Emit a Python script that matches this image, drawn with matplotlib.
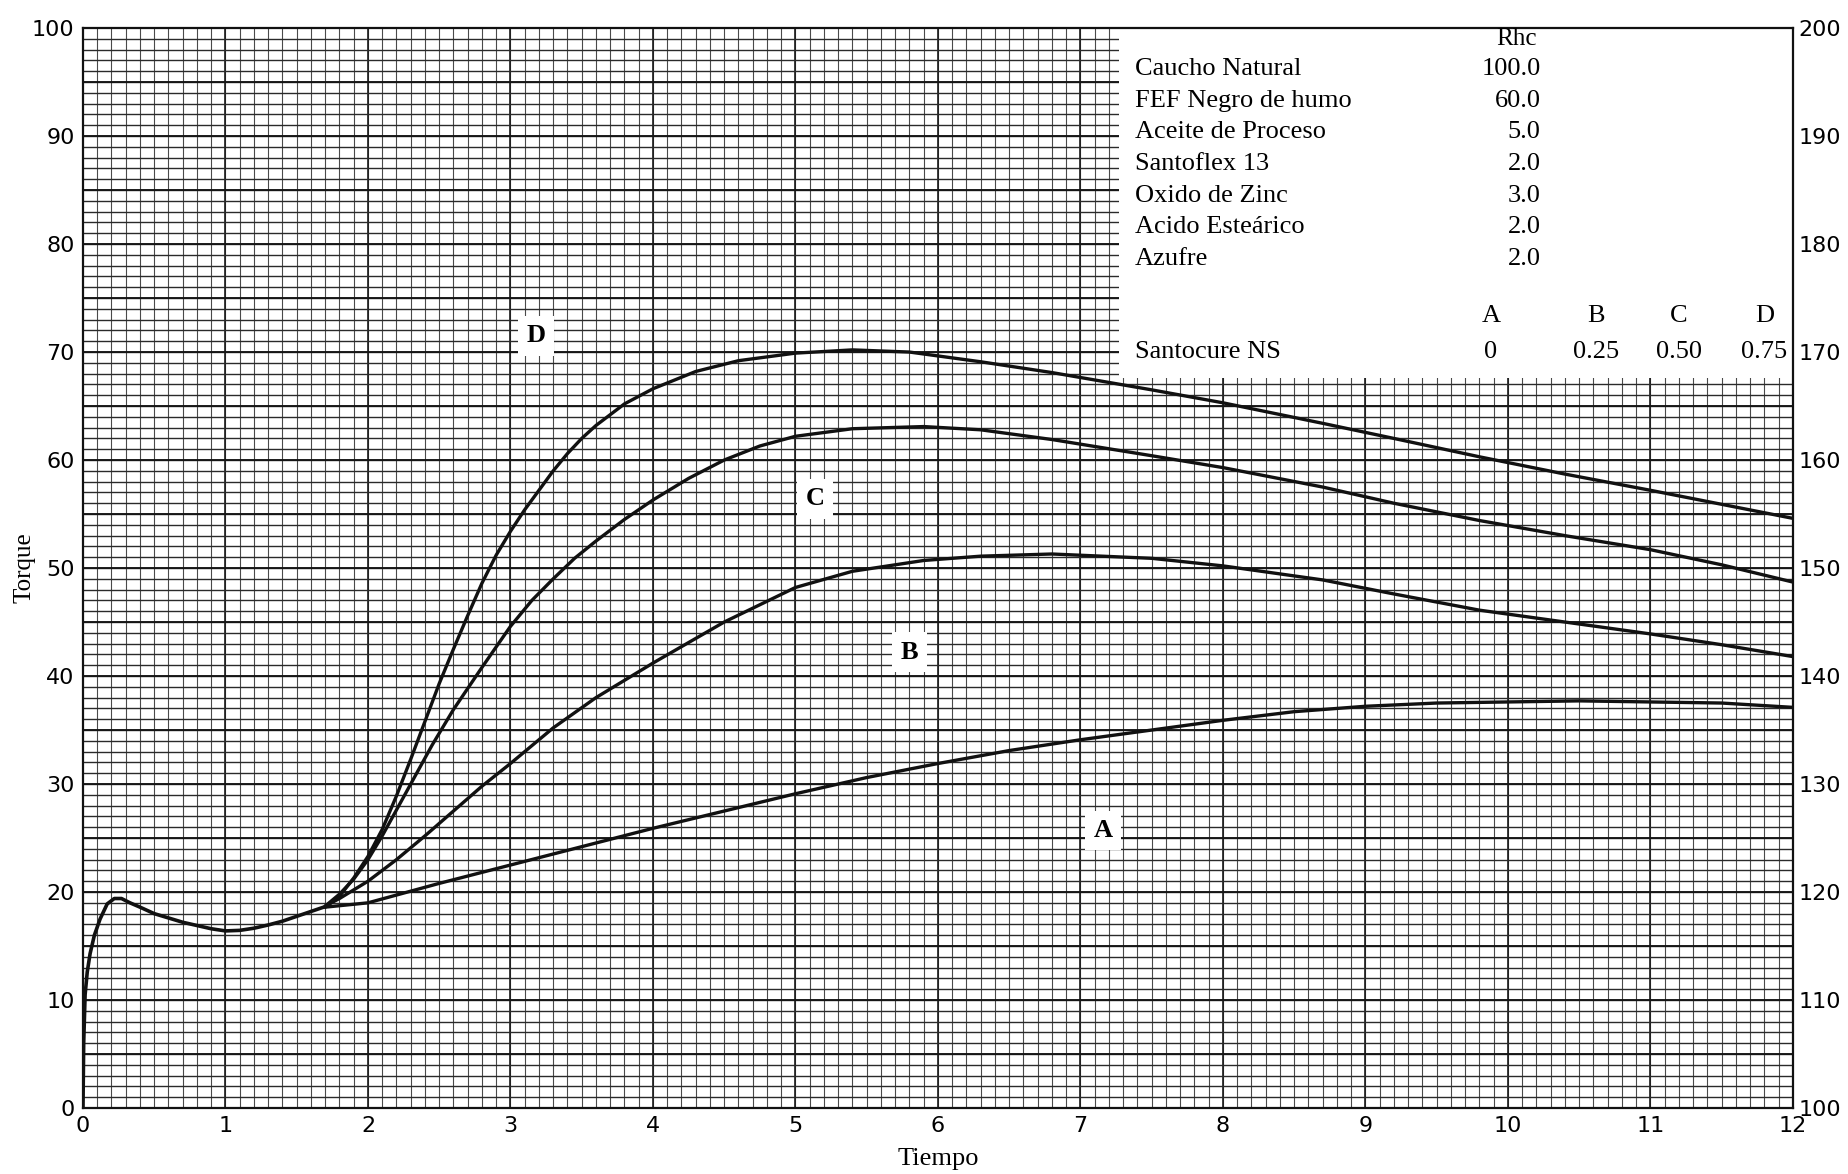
import numpy as np
import matplotlib.pyplot as plt
from matplotlib.patches import Rectangle

# --- Data (Torque vs Tiempo) ---
# common start, all four compounds run together until ~1.7 min
t_common = [0, 0.005, 0.015, 0.03, 0.05, 0.08, 0.12, 0.17, 0.22, 0.27, 0.33, 0.4,
            0.5, 0.6, 0.7, 0.8, 0.9, 1.0, 1.1, 1.2, 1.3, 1.4, 1.5, 1.6, 1.7]
v_common = [0, 6, 10.5, 12.6, 14.3, 16.0, 17.5, 18.9, 19.4, 19.4, 19.0, 18.6,
            18.0, 17.6, 17.2, 16.9, 16.6, 16.4, 16.45, 16.65, 16.95, 17.3, 17.75, 18.2, 18.65]

t_A = [1.7, 2.0, 2.5, 3.0, 3.5, 4.0, 4.5, 5.0, 5.5, 6.0, 6.5, 7.0, 7.5, 8.0,
       8.5, 9.0, 9.5, 10.0, 10.5, 11.0, 11.5, 12.0]
v_A = [18.6, 19.0, 20.8, 22.5, 24.2, 25.9, 27.5, 29.1, 30.6, 31.9, 33.1, 34.1, 35.0, 35.9,
       36.7, 37.2, 37.5, 37.6, 37.7, 37.6, 37.5, 37.1]

t_B = [1.7, 1.8, 2.0, 2.2, 2.4, 2.6, 2.8, 3.0, 3.3, 3.6, 4.0, 4.5, 5.0, 5.4, 5.9,
       6.3, 6.8, 7.5, 8.0, 8.7, 9.2, 9.8, 10.4, 11.0, 11.5, 12.0]
v_B = [18.7, 19.4, 21.0, 23.0, 25.2, 27.5, 29.8, 31.9, 35.2, 38.0, 41.2, 45.0, 48.2, 49.7, 50.7,
       51.1, 51.3, 50.9, 50.2, 48.9, 47.6, 46.1, 45.0, 43.9, 42.9, 41.8]

t_C = [1.7, 1.8, 1.9, 2.0, 2.1, 2.2, 2.3, 2.45, 2.6, 2.8, 3.0, 3.15, 3.3, 3.45, 3.6, 3.8,
       4.0, 4.25, 4.5, 4.75, 5.0, 5.4, 5.9, 6.3, 6.8, 7.5, 8.0, 8.7, 9.2, 9.8, 10.4, 11.0,
       11.5, 12.0]
v_C = [18.7, 19.8, 21.2, 23.0, 25.2, 27.6, 30.0, 33.6, 36.9, 40.8, 44.6, 47.0, 49.0, 50.9, 52.5, 54.5,
       56.3, 58.3, 60.0, 61.3, 62.2, 62.9, 63.1, 62.8, 61.9, 60.4, 59.3, 57.5, 56.0, 54.4, 53.0, 51.7,
       50.3, 48.7]

t_D = [1.7, 1.8, 1.9, 2.0, 2.1, 2.2, 2.3, 2.4, 2.5, 2.6, 2.7, 2.8, 2.9, 3.0, 3.1, 3.2,
       3.3, 3.4, 3.5, 3.6, 3.8, 4.0, 4.3, 4.6, 5.0, 5.4, 5.8, 6.3, 6.8, 7.5, 8.0, 8.7,
       9.2, 9.8, 10.4, 11.0, 11.5, 12.0]
v_D = [18.6, 19.6, 21.3, 23.3, 25.8, 28.9, 32.3, 35.8, 39.3, 42.5, 45.6, 48.6, 51.2, 53.4, 55.4, 57.2,
       59.0, 60.6, 62.0, 63.2, 65.2, 66.6, 68.2, 69.2, 69.9, 70.2, 70.0, 69.1, 68.1, 66.5, 65.3, 63.4,
       62.0, 60.3, 58.7, 57.2, 55.9, 54.6]

# curve labels (letter, x, y)
curve_labels = [('D', 3.18, 71.5), ('C', 5.14, 56.4), ('B', 5.80, 42.2), ('A', 7.16, 25.7)]

# formulation table
ingredients = ['Caucho Natural', 'FEF Negro de humo', 'Aceite de Proceso', 'Santoflex 13',
               'Oxido de Zinc', 'Acido Esteárico', 'Azufre']
phr = ['100.0', '60.0', '5.0', '2.0', '3.0', '2.0', '2.0']
compounds = ['A', 'B', 'C', 'D']
santocure = ['0', '0.25', '0.50', '0.75']

serif = ['Liberation Serif', 'DejaVu Serif']

fig = plt.figure(figsize=(18.48, 11.74), dpi=100)
ax = fig.add_axes([0.0449, 0.0562, 0.9253, 0.9199])
ax.set_xlim(0, 12)
ax.set_ylim(0, 100)

# --- graph paper grid ---
ax.vlines(np.arange(0.1, 12, 0.1), 0, 100, color='#4a4a4a', lw=0.8, zorder=0)
ax.vlines(np.arange(1, 12, 1), 0, 100, color='#1a1a1a', lw=1.2, zorder=0)
ax.hlines(np.arange(1, 100, 1), 0, 12, color='#2a2a2a', lw=1.0, zorder=0)
ax.hlines(np.arange(5, 100, 5), 0, 12, color='#151515', lw=1.35, zorder=0)

# --- curves ---
for t, v in [(t_A, v_A), (t_B, v_B), (t_C, v_C), (t_D, v_D)]:
    ax.plot(t, v, color='#111111', lw=2.4, zorder=4, solid_capstyle='round')
ax.plot(t_common, v_common, color='#111111', lw=2.6, zorder=4, solid_capstyle='round')

for name, x, y in curve_labels:
    ax.text(x, y, name, family=serif, fontsize=19, fontweight='bold', ha='center', va='center',
            zorder=5, bbox=dict(facecolor='white', edgecolor='none', pad=6))

# --- formulation box in the upper right ---
ax.add_patch(Rectangle((7.27, 67.6), 4.73, 32.4, facecolor='white', edgecolor='none', zorder=2))
ax.text(10.06, 99.0, 'Rhc', family=serif, fontsize=18, ha='center', va='center', zorder=5)
for i, (name, val) in enumerate(zip(ingredients, phr)):
    y = 96.2 - 2.93 * i
    ax.text(7.38, y, name, family=serif, fontsize=19, ha='left', va='center', zorder=5)
    ax.text(10.23, y, val, family=serif, fontsize=19, ha='right', va='center', zorder=5)

xs_comp = [9.88, 10.62, 11.2, 11.8]
for xc, c, s in zip(xs_comp, compounds, santocure):
    ax.text(xc, 73.3, c, family=serif, fontsize=19, ha='center', va='center', zorder=5)
    ax.text(xc, 70.0, s, family=serif, fontsize=19, ha='center', va='center', zorder=5)
ax.text(7.38, 70.0, 'Santocure NS', family=serif, fontsize=19, ha='left', va='center', zorder=5)

# --- axes, ticks, labels ---
ax.set_xticks(range(0, 13))
ax.set_yticks(range(0, 101, 10))
ax.tick_params(length=0, labelsize=16, pad=6)
for sp in ax.spines.values():
    sp.set_linewidth(1.6)
    sp.set_color('#111111')

ax.set_xlabel('Tiempo', family=serif, fontsize=19)
ax.xaxis.set_label_coords(0.5, -0.037)
ax.set_ylabel('Torque', family=serif, fontsize=18)
ax.yaxis.set_label_coords(-0.028, 0.5)

ax2 = ax.twinx()
ax2.set_ylim(100, 200)
ax2.set_yticks(range(100, 201, 10))
ax2.tick_params(length=0, labelsize=16, pad=4)
for sp in ax2.spines.values():
    sp.set_visible(False)

fig.savefig('out.png', dpi=100, facecolor='white')
